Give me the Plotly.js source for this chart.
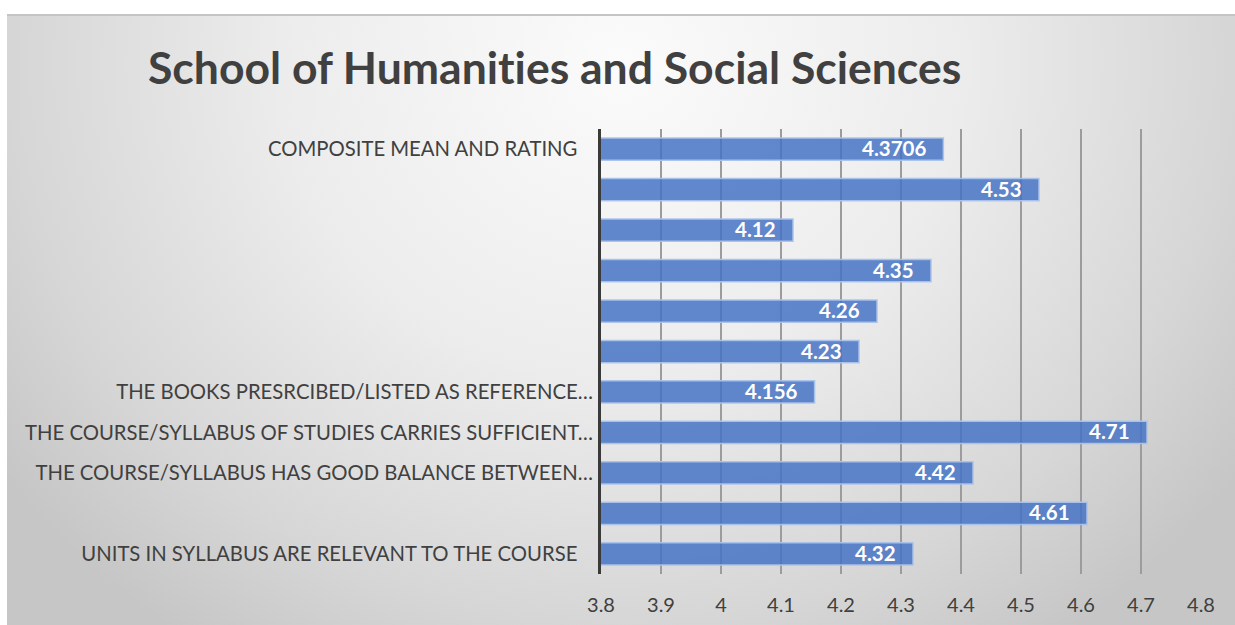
<!DOCTYPE html>
<html>
<head>
<meta charset="utf-8">
<script src="https://cdn.plot.ly/plotly-3.0.1.min.js"></script>
<style>
  html, body { margin: 0; padding: 0; background: #ffffff; width: 1235px; height: 625px; overflow: hidden; }
  #frame {
    position: absolute; left: 7px; top: 14px; width: 1228px; height: 611px;
    border-top: 2px solid #c4c4c4; box-sizing: border-box;
    background: radial-gradient(ellipse 62% 115% at 50% 8%, #fbfbfb 0%, #ececec 45%, #d6d6d6 80%, #c6c6c6 100%);
  }
  #chart { position: absolute; left: 0; top: 0; width: 1228px; height: 611px; }
  #chart text { font-variant-ligatures: none; font-feature-settings: "liga" 0, "clig" 0; }
</style>
</head>
<body>
<div id="frame"><div id="chart"></div></div>
<script>
// Categories listed bottom to top
const categoryIds = ["Q1", "Q2", "Q3", "Q4", "Q5", "Q6", "Q7", "Q8", "Q9", "Q10", "COMPOSITE"];
const tickLabels = [
  "UNITS IN SYLLABUS ARE RELEVANT TO THE COURSE\u00a0\u00a0\u00a0",
  "",
  "THE COURSE/SYLLABUS HAS GOOD BALANCE BETWEEN…",
  "THE COURSE/SYLLABUS OF STUDIES CARRIES SUFFICIENT…",
  "THE BOOKS PRESRCIBED/LISTED AS REFERENCE…",
  "",
  "",
  "",
  "",
  "",
  "COMPOSITE MEAN AND RATING\u00a0\u00a0\u00a0"
];
const values = [4.32, 4.61, 4.42, 4.71, 4.156, 4.23, 4.26, 4.35, 4.12, 4.53, 4.3706];
const valueLabels = ["4.32", "4.61", "4.42", "4.71", "4.156", "4.23", "4.26", "4.35", "4.12", "4.53", "4.3706"];
const xTicks = [3.8, 3.9, 4, 4.1, 4.2, 4.3, 4.4, 4.5, 4.6, 4.7, 4.8];
const xTickText = ["3.8", "3.9", "4", "4.1", "4.2", "4.3", "4.4", "4.5", "4.6", "4.7", "4.8"];

const trace = {
  type: "bar",
  orientation: "h",
  y: categoryIds,
  x: values,
  marker: {
    color: "rgba(68,114,196,0.84)",
    line: { color: "rgba(170,195,235,0.95)", width: 1.5 }
  },
  width: 0.55,
  hoverinfo: "skip",
  cliponaxis: true
};

const valueAnnotations = values.map(function (v, i) {
  return {
    x: v, y: categoryIds[i], xref: "x", yref: "y",
    text: "<b>" + valueLabels[i] + "</b>",
    showarrow: false,
    xanchor: "right", yanchor: "middle",
    xshift: -15, yshift: 1,
    font: { family: "Lato, 'Open Sans', sans-serif", size: 20.5, color: "#ffffff" }
  };
});

const layout = {
  width: 1228, height: 611,
  paper_bgcolor: "rgba(0,0,0,0)",
  plot_bgcolor: "rgba(0,0,0,0)",
  margin: { l: 594, r: 34, t: 113, b: 53 },
  showlegend: false,
  title: {
    text: "<b>School of Humanities and Social Sciences</b>",
    font: { family: "Lato, 'Open Sans', sans-serif", size: 44.5, color: "#404040" },
    xref: "container", yref: "container",
    x: 141 / 1228, xanchor: "left",
    y: 1 - 52 / 611, yanchor: "middle"
  },
  xaxis: {
    range: [3.8, 4.8],
    tickvals: xTicks,
    ticktext: xTickText,
    showgrid: true,
    gridcolor: "#9c9c9c",
    gridwidth: 1.5,
    zeroline: false,
    showline: false,
    ticks: "",
    ticklabelstandoff: 17,
    tickfont: { family: "Lato, 'Open Sans', sans-serif", size: 20, color: "#404040" },
    fixedrange: true
  },
  yaxis: {
    type: "category",
    categoryorder: "array",
    categoryarray: categoryIds,
    tickvals: categoryIds,
    ticktext: tickLabels,
    showgrid: false,
    zeroline: false,
    showline: true,
    linecolor: "#3a3a3a",
    linewidth: 3,
    ticks: "",
    ticklabelstandoff: 1,
    tickfont: { family: "Lato, 'Open Sans', sans-serif", size: 20.3, color: "#404040" },
    fixedrange: true
  },
  annotations: valueAnnotations,
  bargap: 0.45
};

Plotly.newPlot("chart", [trace], layout, { displayModeBar: false, staticPlot: true });
</script>
</body>
</html>
